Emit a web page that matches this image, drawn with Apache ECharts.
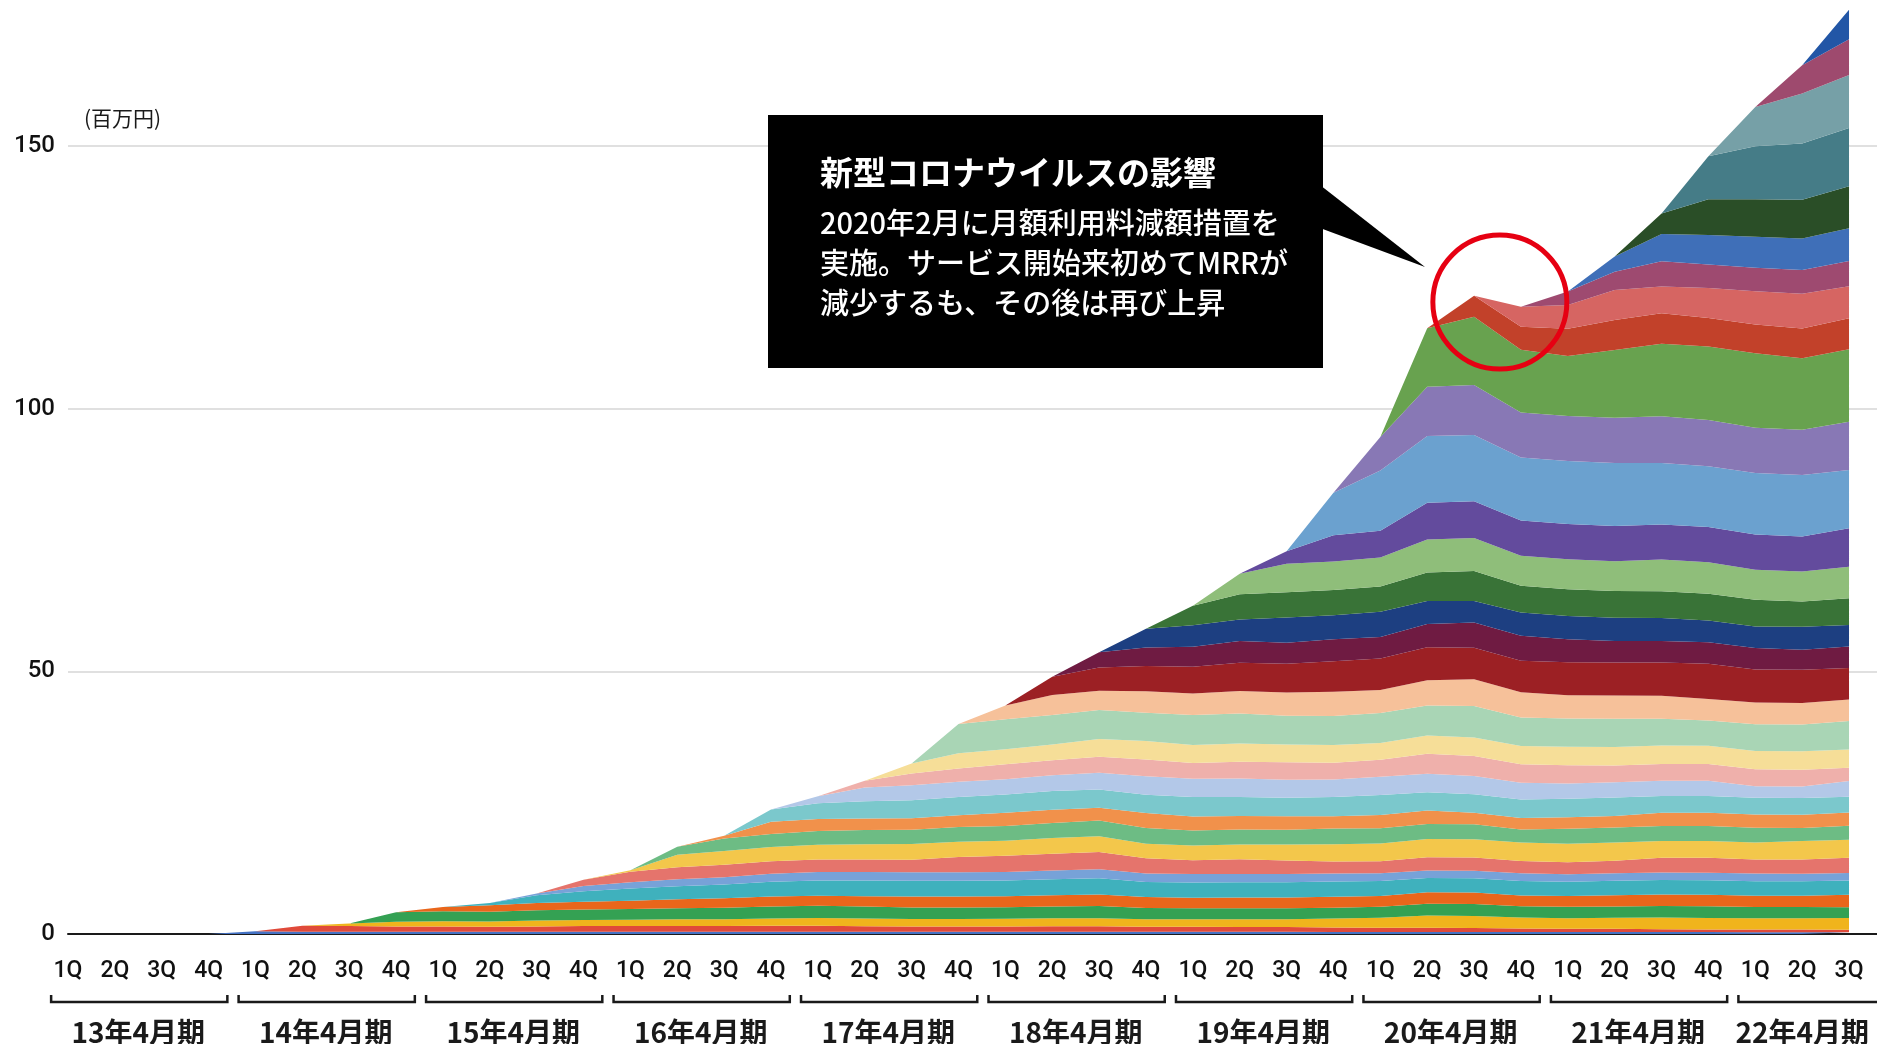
<!DOCTYPE html>
<html>
<head>
<meta charset="utf-8">
<title>MRR cohort</title>
<script src="https://cdn.jsdelivr.net/npm/echarts@6.0.0/dist/echarts.min.js"></script>
<style>
  html, body { margin: 0; padding: 0; background: #fff; }
  #chart { width: 1877px; height: 1044px; }
</style>
</head>
<body>
<div id="chart"></div>
<script>
// quarters: index 0 = 13年4月期 1Q ... index 38 = 22年4月期 3Q, last slot is empty padding
const quarterTicks = [
  '1Q', '2Q', '3Q', '4Q', '1Q', '2Q', '3Q', '4Q', '1Q', '2Q', '3Q', '4Q', '1Q', '2Q', '3Q', '4Q',
  '1Q', '2Q', '3Q', '4Q', '1Q', '2Q', '3Q', '4Q', '1Q', '2Q', '3Q', '4Q', '1Q', '2Q', '3Q', '4Q',
  '1Q', '2Q', '3Q', '4Q', '1Q', '2Q', '3Q', ''
]
const fiscalYears = ['13年4月期', '14年4月期', '15年4月期', '16年4月期', '17年4月期', '18年4月期', '19年4月期', '20年4月期', '21年4月期', '22年4月期']
const yearFirstQuarter = [0, 4, 8, 12, 16, 20, 24, 28, 32, 36]
const yearLastQuarter = [3, 7, 11, 15, 19, 23, 27, 31, 35, 38]

// MRR per acquisition cohort (百万円), bottom layer first
const cohort01 = [0, 0, 0, 0, 0.5, 0.45, 0.45, 0.45, 0.45, 0.45, 0.45, 0.45, 0.45, 0.45, 0.45, 0.45, 0.45, 0.44, 0.44, 0.44, 0.43, 0.43, 0.42, 0.42, 0.42, 0.41, 0.41, 0.4, 0.4, 0.4, 0.4, 0.4, 0.38, 0.38, 0.37, 0.36, 0.35, 0.34, 0.33]
const cohort02 = [0, 0, 0, 0, 0, 1.1, 1.05, 1.0, 1.0, 0.95, 1.0, 1.05, 1.05, 1.05, 1.05, 1.1, 1.1, 1.05, 1.0, 1.0, 1.0, 1.05, 1.05, 0.95, 0.95, 0.9, 0.9, 0.85, 0.8, 0.8, 0.75, 0.65, 0.6, 0.6, 0.55, 0.5, 0.5, 0.5, 0.5]
const cohort03 = [0, 0, 0, 0, 0, 0, 0.5, 0.9, 1.0, 1.0, 1.1, 1.15, 1.2, 1.3, 1.3, 1.4, 1.5, 1.45, 1.4, 1.4, 1.45, 1.5, 1.55, 1.45, 1.45, 1.5, 1.5, 1.7, 1.9, 2.3, 2.3, 2.1, 2.0, 2.1, 2.2, 2.2, 2.15, 2.15, 2.2]
const cohort04 = [0, 0, 0, 0, 0, 0, 0, 1.8, 1.9, 1.85, 1.95, 2.0, 2.05, 2.1, 2.2, 2.3, 2.35, 2.3, 2.2, 2.2, 2.2, 2.25, 2.3, 2.15, 2.1, 2.1, 2.1, 2.05, 2.1, 2.25, 2.25, 2.15, 2.2, 2.15, 2.2, 2.2, 2.15, 2.15, 2.05]
const cohort05 = [0, 0, 0, 0, 0, 0, 0, 0, 0.8, 1.2, 1.4, 1.5, 1.6, 1.7, 1.8, 1.9, 1.9, 1.95, 2.1, 2.1, 2.1, 2.15, 2.2, 2.05, 2.0, 2.05, 2.05, 2.1, 2.05, 2.2, 2.2, 2.05, 2.05, 2.15, 2.2, 2.2, 2.15, 2.15, 2.4]
const cohort06 = [0, 0, 0, 0, 0, 0, 0, 0, 0, 0.45, 1.5, 2.0, 2.3, 2.5, 2.6, 2.8, 2.9, 3.0, 3.0, 3.0, 3.0, 3.05, 3.1, 2.9, 2.9, 2.9, 2.9, 2.9, 2.85, 2.7, 2.7, 2.75, 2.7, 2.75, 2.75, 2.75, 2.75, 2.75, 2.7]
const cohort07 = [0, 0, 0, 0, 0, 0, 0, 0, 0, 0, 0.3, 1.0, 1.2, 1.3, 1.4, 1.5, 1.6, 1.6, 1.6, 1.6, 1.6, 1.65, 1.7, 1.6, 1.6, 1.55, 1.55, 1.5, 1.45, 1.45, 1.45, 1.45, 1.45, 1.45, 1.45, 1.45, 1.45, 1.45, 1.45]
const cohort08 = [0, 0, 0, 0, 0, 0, 0, 0, 0, 0, 0, 1.2, 2.0, 2.3, 2.4, 2.4, 2.4, 2.4, 2.4, 2.9, 3.1, 3.2, 3.3, 2.9, 2.6, 2.8, 2.6, 2.3, 2.3, 2.5, 2.5, 2.35, 2.3, 2.35, 2.8, 2.85, 2.7, 2.7, 2.9]
const cohort09 = [0, 0, 0, 0, 0, 0, 0, 0, 0, 0, 0, 0, 0.3, 2.4, 2.6, 2.7, 2.8, 2.9, 3.0, 2.9, 2.85, 3.0, 3.0, 2.75, 2.85, 2.85, 3.05, 3.3, 3.4, 3.5, 3.5, 3.5, 3.5, 3.5, 3.2, 3.2, 3.2, 3.5, 3.4]
const cohort10 = [0, 0, 0, 0, 0, 0, 0, 0, 0, 0, 0, 0, 0, 1.5, 2.4, 2.5, 2.6, 2.7, 2.7, 2.85, 2.85, 2.85, 3.0, 3.0, 2.85, 2.85, 2.8, 3.0, 2.9, 2.85, 2.85, 2.5, 2.85, 2.85, 2.85, 2.85, 2.85, 2.5, 2.7]
const cohort11 = [0, 0, 0, 0, 0, 0, 0, 0, 0, 0, 0, 0, 0, 0, 0.5, 2.3, 2.3, 2.2, 2.2, 2.2, 2.5, 2.5, 2.4, 2.85, 2.65, 2.55, 2.55, 2.3, 2.5, 2.55, 2.2, 2.2, 2.2, 2.2, 2.5, 2.5, 2.5, 2.5, 2.5]
const cohort12 = [0, 0, 0, 0, 0, 0, 0, 0, 0, 0, 0, 0, 0, 0, 0, 2.35, 3.0, 3.3, 3.4, 3.5, 3.5, 3.6, 3.5, 3.5, 3.7, 3.6, 3.55, 3.7, 3.8, 3.5, 3.5, 3.5, 3.5, 3.5, 3.2, 3.2, 3.2, 3.2, 3.0]
const cohort13 = [0, 0, 0, 0, 0, 0, 0, 0, 0, 0, 0, 0, 0, 0, 0, 0, 1.3, 2.6, 2.9, 2.9, 2.9, 3.0, 3.2, 3.5, 3.5, 3.55, 3.4, 3.3, 3.5, 3.5, 3.5, 3.2, 2.9, 2.9, 2.9, 2.9, 2.2, 2.2, 3.0]
const cohort14 = [0, 0, 0, 0, 0, 0, 0, 0, 0, 0, 0, 0, 0, 0, 0, 0, 0, 1.3, 2.2, 2.5, 2.85, 2.85, 3.0, 3.2, 3.0, 3.2, 3.35, 3.2, 3.2, 3.8, 3.8, 3.5, 3.5, 3.2, 3.2, 3.2, 3.2, 3.2, 2.5]
const cohort15 = [0, 0, 0, 0, 0, 0, 0, 0, 0, 0, 0, 0, 0, 0, 0, 0, 0, 0, 1.9, 2.9, 2.85, 3.0, 3.4, 3.5, 3.4, 3.45, 3.35, 3.4, 3.2, 3.5, 3.5, 3.5, 3.5, 3.5, 3.5, 3.5, 3.5, 3.5, 3.5]
const cohort16 = [0, 0, 0, 0, 0, 0, 0, 0, 0, 0, 0, 0, 0, 0, 0, 0, 0, 0, 0, 5.6, 5.7, 5.6, 5.5, 5.4, 5.7, 5.7, 5.5, 5.5, 5.7, 5.7, 6.0, 5.4, 5.4, 5.4, 5.1, 4.8, 5.1, 5.1, 5.4]
const cohort17 = [0, 0, 0, 0, 0, 0, 0, 0, 0, 0, 0, 0, 0, 0, 0, 0, 0, 0, 0, 0, 2.6, 3.8, 3.7, 4.1, 4.1, 4.3, 4.4, 4.6, 4.4, 4.8, 5.1, 4.8, 4.4, 4.4, 4.4, 4.1, 4.1, 4.1, 4.1]
const cohort18 = [0, 0, 0, 0, 0, 0, 0, 0, 0, 0, 0, 0, 0, 0, 0, 0, 0, 0, 0, 0, 0, 3.5, 4.4, 4.8, 5.1, 5.4, 5.5, 5.8, 6.0, 6.3, 6.0, 6.0, 6.3, 6.3, 6.3, 6.7, 6.3, 6.3, 6.0]
const cohort19 = [0, 0, 0, 0, 0, 0, 0, 0, 0, 0, 0, 0, 0, 0, 0, 0, 0, 0, 0, 0, 0, 0, 2.9, 3.5, 3.8, 4.1, 4.0, 4.2, 4.1, 4.4, 4.8, 4.8, 4.4, 4.1, 4.1, 4.1, 4.1, 3.8, 4.1]
const cohort20 = [0, 0, 0, 0, 0, 0, 0, 0, 0, 0, 0, 0, 0, 0, 0, 0, 0, 0, 0, 0, 0, 0, 0, 3.6, 4.1, 4.1, 4.8, 4.6, 4.8, 4.4, 4.1, 4.4, 4.4, 4.4, 4.4, 4.1, 4.1, 4.4, 4.1]
const cohort21 = [0, 0, 0, 0, 0, 0, 0, 0, 0, 0, 0, 0, 0, 0, 0, 0, 0, 0, 0, 0, 0, 0, 0, 0, 3.7, 4.8, 4.8, 4.8, 4.8, 5.4, 5.7, 5.1, 5.1, 5.1, 5.1, 5.1, 5.1, 4.8, 5.1]
const cohort22 = [0, 0, 0, 0, 0, 0, 0, 0, 0, 0, 0, 0, 0, 0, 0, 0, 0, 0, 0, 0, 0, 0, 0, 0, 0, 3.9, 5.4, 5.4, 5.5, 6.3, 6.3, 5.7, 5.7, 5.7, 6.0, 6.0, 5.7, 5.7, 6.0]
const cohort23 = [0, 0, 0, 0, 0, 0, 0, 0, 0, 0, 0, 0, 0, 0, 0, 0, 0, 0, 0, 0, 0, 0, 0, 0, 0, 0, 2.4, 5.0, 5.1, 7.0, 7.0, 6.7, 6.7, 6.7, 6.7, 6.7, 6.7, 6.7, 7.3]
const cohort24 = [0, 0, 0, 0, 0, 0, 0, 0, 0, 0, 0, 0, 0, 0, 0, 0, 0, 0, 0, 0, 0, 0, 0, 0, 0, 0, 0, 8.1, 11.5, 12.7, 12.6, 12.0, 12.0, 12.0, 11.7, 11.6, 11.7, 11.7, 11.1]
const cohort25 = [0, 0, 0, 0, 0, 0, 0, 0, 0, 0, 0, 0, 0, 0, 0, 0, 0, 0, 0, 0, 0, 0, 0, 0, 0, 0, 0, 0, 6.35, 9.4, 9.5, 8.6, 8.6, 8.6, 8.9, 8.8, 8.6, 8.6, 9.2]
const cohort26 = [0, 0, 0, 0, 0, 0, 0, 0, 0, 0, 0, 0, 0, 0, 0, 0, 0, 0, 0, 0, 0, 0, 0, 0, 0, 0, 0, 0, 0, 11.1, 13.0, 11.9, 11.4, 12.9, 13.8, 14.0, 14.2, 13.6, 13.8]
const cohort27 = [0, 0, 0, 0, 0, 0, 0, 0, 0, 0, 0, 0, 0, 0, 0, 0, 0, 0, 0, 0, 0, 0, 0, 0, 0, 0, 0, 0, 0, 0, 4.0, 4.4, 5.2, 5.7, 5.8, 5.4, 5.5, 5.7, 5.9]
const cohort28 = [0, 0, 0, 0, 0, 0, 0, 0, 0, 0, 0, 0, 0, 0, 0, 0, 0, 0, 0, 0, 0, 0, 0, 0, 0, 0, 0, 0, 0, 0, 0, 3.8, 4.5, 5.7, 5.1, 5.7, 6.3, 6.6, 6.1]
const cohort29 = [0, 0, 0, 0, 0, 0, 0, 0, 0, 0, 0, 0, 0, 0, 0, 0, 0, 0, 0, 0, 0, 0, 0, 0, 0, 0, 0, 0, 0, 0, 0, 0, 2.6, 3.5, 4.8, 4.5, 4.5, 4.5, 4.8]
const cohort30 = [0, 0, 0, 0, 0, 0, 0, 0, 0, 0, 0, 0, 0, 0, 0, 0, 0, 0, 0, 0, 0, 0, 0, 0, 0, 0, 0, 0, 0, 0, 0, 0, 0, 2.9, 5.2, 5.6, 5.9, 6.0, 6.2]
const cohort31 = [0, 0, 0, 0, 0, 0, 0, 0, 0, 0, 0, 0, 0, 0, 0, 0, 0, 0, 0, 0, 0, 0, 0, 0, 0, 0, 0, 0, 0, 0, 0, 0, 0, 0, 3.9, 6.8, 7.1, 7.4, 8.0]
const cohort32 = [0, 0, 0, 0, 0, 0, 0, 0, 0, 0, 0, 0, 0, 0, 0, 0, 0, 0, 0, 0, 0, 0, 0, 0, 0, 0, 0, 0, 0, 0, 0, 0, 0, 0, 0, 8.2, 10.1, 10.7, 11.1]
const cohort33 = [0, 0, 0, 0, 0, 0, 0, 0, 0, 0, 0, 0, 0, 0, 0, 0, 0, 0, 0, 0, 0, 0, 0, 0, 0, 0, 0, 0, 0, 0, 0, 0, 0, 0, 0, 0, 7.5, 9.5, 10.1]
const cohort34 = [0, 0, 0, 0, 0, 0, 0, 0, 0, 0, 0, 0, 0, 0, 0, 0, 0, 0, 0, 0, 0, 0, 0, 0, 0, 0, 0, 0, 0, 0, 0, 0, 0, 0, 0, 0, 0, 5.4, 6.8]
const cohort35 = [0, 0, 0, 0, 0, 0, 0, 0, 0, 0, 0, 0, 0, 0, 0, 0, 0, 0, 0, 0, 0, 0, 0, 0, 0, 0, 0, 0, 0, 0, 0, 0, 0, 0, 0, 0, 0, 0, 5.6]

const cohorts = [
  cohort01, cohort02, cohort03, cohort04, cohort05, cohort06, cohort07, cohort08, cohort09, cohort10,
  cohort11, cohort12, cohort13, cohort14, cohort15, cohort16, cohort17, cohort18, cohort19, cohort20,
  cohort21, cohort22, cohort23, cohort24, cohort25, cohort26, cohort27, cohort28, cohort29, cohort30,
  cohort31, cohort32, cohort33, cohort34, cohort35
]

const cohortColors = [
  '#4472c4', '#e04a3a', '#f0b41c', '#34a153', '#e9661b', '#3fb1bd', '#77a2d8', '#e5746c', '#f3c74b', '#6dbc84',
  '#f1914b', '#7bc8cc', '#b3c8e8', '#efb0ab', '#f6de98', '#a9d5b5', '#f6c19a', '#9c2024', '#6f1b42', '#1d3f81',
  '#397337', '#8fbe7a', '#634b9d', '#6ba1cf', '#8878b5', '#68a24f', '#c2412a', '#d66562', '#9e4a70', '#3f6fb8',
  '#2a4e27', '#457c87', '#76a0a7', '#9e4a6e', '#2256a6'
]

// covid dip marker (quarter index, 百万円)
const covidMarker = [30.55, 120.3]

const numFont = 'Roboto, "Liberation Sans", sans-serif'
const jpFont = '"Noto Sans CJK JP", sans-serif'

const chart = echarts.init(document.getElementById('chart'))

const areaSeries = cohorts.map((values, k) => ({
  name: 'cohort' + (k + 1),
  type: 'line',
  stack: 'mrr',
  data: values,
  symbol: 'none',
  lineStyle: { width: 0 },
  itemStyle: { color: cohortColors[k] },
  areaStyle: { color: cohortColors[k], opacity: 1 },
  emphasis: { disabled: true },
  silent: true,
  z: 2
}))

// brackets and fiscal year names below the quarter labels
const yearSeries = {
  type: 'custom',
  xAxisIndex: 1,
  silent: true,
  clip: false,
  z: 5,
  data: yearFirstQuarter.map((q, k) => [q, yearLastQuarter[k], k < fiscalYears.length - 1 ? 1 : 0]),
  encode: { x: [0, 1], y: 2 },
  renderItem(params, api) {
    const first = api.value(0)
    const last = api.value(1)
    const closed = api.value(2) === 1
    const base = api.coord([0, 0])[1]
    const left = api.coord([first - 0.36, 0])[0]
    const right = closed ? api.coord([last + 0.4, 0])[0] : 1877
    const top = base + 61
    const bottom = base + 68
    const points = closed
      ? [[left, top], [left, bottom], [right, bottom], [right, top]]
      : [[left, top], [left, bottom], [right, bottom]]
    const center = api.coord([(first + last) / 2, 0])[0]
    return {
      type: 'group',
      children: [
        { type: 'polyline', shape: { points }, style: { stroke: '#1a1a1a', lineWidth: 2.5, fill: null } },
        {
          type: 'text',
          style: {
            text: fiscalYears[params.dataIndex],
            x: center,
            y: base + 98,
            align: 'center',
            verticalAlign: 'middle',
            fontSize: 28,
            fontWeight: 'bold',
            fontFamily: jpFont,
            fill: '#1a1a1a'
          }
        }
      ]
    }
  }
}

const markerSeries = {
  type: 'scatter',
  xAxisIndex: 1,
  silent: true,
  z: 6,
  data: [covidMarker],
  symbol: 'circle',
  symbolSize: 134,
  itemStyle: { color: 'rgba(0,0,0,0)', borderColor: '#e60012', borderWidth: 5, opacity: 1 }
}

const option = {
  animation: false,
  backgroundColor: '#fff',
  grid: {
    left: 68,
    right: -18.9,
    top: -116.6,
    bottom: 110,
    containLabel: false,
    outerBoundsMode: 'none'
  },
  xAxis: [
    {
      type: 'category',
      data: quarterTicks,
      boundaryGap: false,
      axisLine: { show: true, lineStyle: { color: '#1a1a1a', width: 2 } },
      axisTick: { show: false },
      splitLine: { show: false },
      axisLabel: {
        interval: 0,
        margin: 26,
        fontSize: 23,
        fontWeight: 500,
        color: '#111',
        fontFamily: numFont
      }
    },
    {
      // same positions as the categories, used for annotations
      type: 'value',
      min: 0,
      max: quarterTicks.length - 1,
      show: false
    }
  ],
  yAxis: {
    type: 'value',
    min: 0,
    max: 200,
    interval: 50,
    axisLine: { show: false },
    axisTick: { show: false },
    splitLine: { lineStyle: { color: '#d6d6d6', width: 1.5 } },
    axisLabel: { margin: 13, fontSize: 24, fontWeight: 500, color: '#111', fontFamily: numFont }
  },
  graphic: [
    {
      type: 'text',
      x: 84,
      y: 118,
      style: { text: '(百万円)', fill: '#1a1a1a', font: '21px ' + jpFont, verticalAlign: 'middle' }
    },
    {
      type: 'polygon',
      z: 10,
      shape: { points: [[1320, 185], [1320, 228], [1425, 267]] },
      style: { fill: '#000' }
    },
    {
      type: 'rect',
      z: 10,
      shape: { x: 768, y: 115, width: 555, height: 253 },
      style: { fill: '#000' }
    },
    {
      type: 'text',
      z: 11,
      x: 820,
      y: 172,
      style: { text: '新型コロナウイルスの影響', fill: '#fff', font: 'bold 33px ' + jpFont, verticalAlign: 'middle' }
    },
    {
      type: 'text',
      z: 11,
      x: 820,
      y: 203,
      style: {
        text: '2020年2月に月額利用料減額措置を\n実施。サービス開始来初めてMRRが\n減少するも、その後は再び上昇',
        fill: '#fff',
        font: '500 29px ' + jpFont,
        lineHeight: 40,
        verticalAlign: 'top'
      }
    }
  ],
  series: areaSeries.concat([yearSeries, markerSeries])
}

chart.setOption(option)
</script>
</body>
</html>
